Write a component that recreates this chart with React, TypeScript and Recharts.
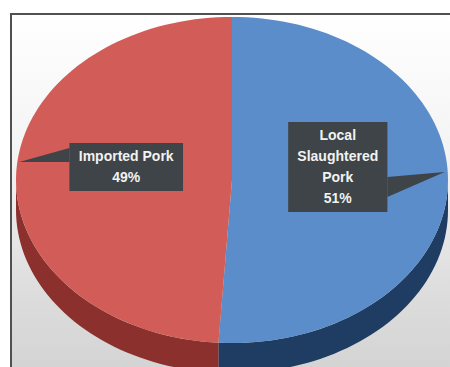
import { PieChart, Pie, Cell } from 'recharts';

const sliceNames = ['Local Slaughtered Pork', 'Imported Pork'];
const sliceValues = [51, 49];
const topColors = ['#5B8DCB', '#D25C57'];
const sideColors = ['#1F3C62', '#8C302D'];

const data = sliceNames.map((name, i) => ({ name, value: sliceValues[i] }));

const TILT = 0.755; // vertical squash of the pie disc
const DEPTH = 30;   // thickness of the side wall
const RAD = Math.PI / 180;

const rimPoint = (cx: number, cy: number, r: number, deg: number) => [
    cx + r * Math.cos(deg * RAD),
    cy - r * TILT * Math.sin(deg * RAD),
];

const arcPoints = (cx: number, cy: number, r: number, a: number, b: number, dy = 0) => {
    const n = Math.max(2, Math.ceil(Math.abs(b - a) / 2));
    const pts: string[] = [];
    for (let i = 0; i <= n; i++) {
        const d = a + ((b - a) * i) / n;
        const [x, y] = rimPoint(cx, cy, r, d);
        pts.push(`${x.toFixed(2)},${(y + dy).toFixed(2)}`);
    }
    return pts;
};

const TopFace = (props: any) => {
    const { cx, cy, outerRadius, startAngle, endAngle, fill } = props;
    const pts = [`${cx},${cy}`, ...arcPoints(cx, cy, outerRadius, startAngle, endAngle)];
    return <polygon points={pts.join(' ')} fill={fill} />;
};

const SideWall = (props: any) => {
    const { cx, cy, outerRadius, startAngle, endAngle, fill } = props;
    const lo = Math.min(startAngle, endAngle);
    const hi = Math.max(startAngle, endAngle);
    const parts = [];
    // only the front half (lower on screen) of the rim is visible
    for (let k = -1; k <= 1; k++) {
        const a = Math.max(lo, -180 + 360 * k);
        const b = Math.min(hi, 360 * k);
        if (b - a <= 0) continue;
        const pts = [
            ...arcPoints(cx, cy, outerRadius, a, b),
            ...arcPoints(cx, cy, outerRadius, b, a, DEPTH),
        ];
        parts.push(<polygon key={k} points={pts.join(' ')} fill={fill} />);
    }
    return <g>{parts}</g>;
};

const Callout = (props: any) => {
    const { cx, cy, midAngle, outerRadius, name, percent } = props;
    const cos = Math.cos(midAngle * RAD);
    const right = cos > 0;
    const lines: string[] = name.length > 14 ? name.split(' ') : [name];
    lines.push(`${Math.round(percent * 100)}%`);
    const w = Math.max(...lines.map((l) => l.length)) * 7.2 + 20;
    const h = lines.length * 21 + 6;
    const bx = cx + outerRadius * 0.49 * cos;
    const by = cy - 13;
    const [rx, ry] = rimPoint(cx, cy, outerRadius * 0.985, midAngle);
    const tipX = rx;
    const tipY = ry - 13;
    const edgeX = right ? bx + w / 2 : bx - w / 2;
    const base = right ? [by + 10, by + 30] : [by - 19, by - 5];
    return (
        <g>
            <polygon
                points={`${edgeX},${base[0]} ${tipX},${tipY} ${edgeX},${base[1]}`}
                fill="#3E4447"
            />
            <rect x={bx - w / 2} y={by - h / 2} width={w} height={h} fill="#3E4447" />
            {lines.map((l, i) => (
                <text
                    key={i}
                    x={bx}
                    y={by - h / 2 + 18 + i * 21}
                    textAnchor="middle"
                    fill="#F2F2F2"
                    fontSize={14}
                    fontWeight="bold"
                    fontFamily="'Liberation Sans', Arial, sans-serif"
                >
                    {l}
                </text>
            ))}
        </g>
    );
};

export default function App() {
    return (
        <div style={{ position: 'absolute', left: 0, top: 0, width: 450, height: 367, background: '#fff', overflow: 'hidden' }}>
            <div
                style={{
                    position: 'absolute',
                    left: 10,
                    top: 13,
                    width: 440,
                    height: 354,
                    borderTop: '2px solid #505050',
                    borderLeft: '2px solid #505050',
                    background: 'linear-gradient(to bottom, #ffffff 0%, #f3f3f3 40%, #dcdcdc 80%, #d4d4d4 100%)',
                }}
            />
            <div style={{ position: 'absolute', left: 0, top: 0 }}>
                <PieChart width={450} height={367} margin={{ top: 0, right: 0, bottom: 0, left: 0 }}>
                    <Pie
                        data={data}
                        dataKey="value"
                        nameKey="name"
                        cx={232}
                        cy={180}
                        outerRadius={216}
                        startAngle={90}
                        endAngle={-270}
                        stroke="none"
                        shape={SideWall}
                        isAnimationActive={false}
                    >
                        {data.map((d, i) => (
                            <Cell key={d.name} fill={sideColors[i]} />
                        ))}
                    </Pie>
                    <Pie
                        data={data}
                        dataKey="value"
                        nameKey="name"
                        cx={232}
                        cy={180}
                        outerRadius={216}
                        startAngle={90}
                        endAngle={-270}
                        stroke="none"
                        shape={TopFace}
                        label={Callout}
                        labelLine={false}
                        isAnimationActive={false}
                    >
                        {data.map((d, i) => (
                            <Cell key={d.name} fill={topColors[i]} />
                        ))}
                    </Pie>
                </PieChart>
            </div>
        </div>
    );
}
